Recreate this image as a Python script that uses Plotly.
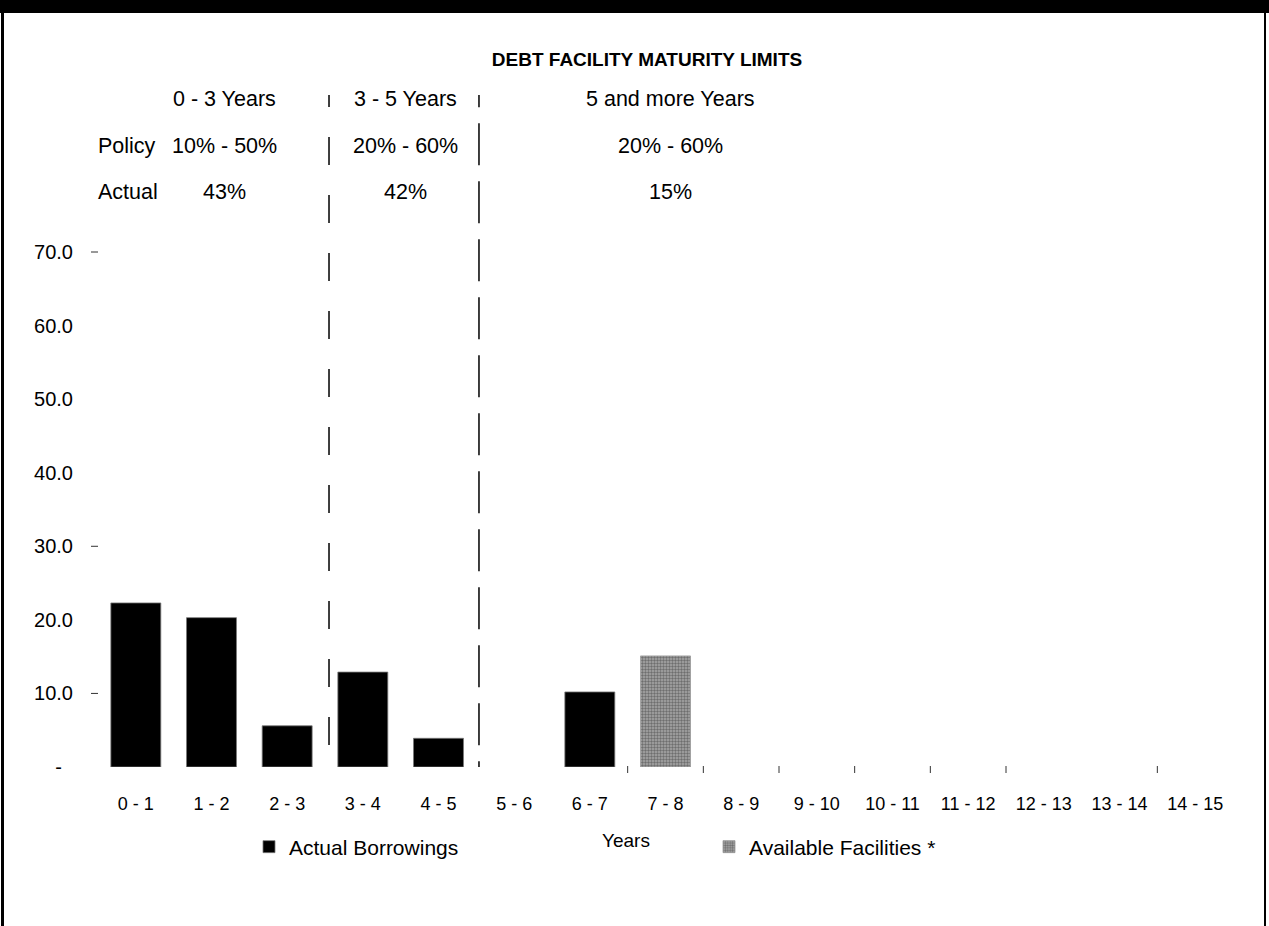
import plotly.graph_objects as go

# Maturity buckets (years) and amounts
categories = ["0 - 1", "1 - 2", "2 - 3", "3 - 4", "4 - 5", "5 - 6", "6 - 7", "7 - 8",
              "8 - 9", "9 - 10", "10 - 11", "11 - 12", "12 - 13", "13 - 14", "14 - 15"]
actual_borrowings = [22.3, 20.3, 5.6, 12.9, 3.9, None, 10.2, None,
                     None, None, None, None, None, None, None]
available_facilities = [None, None, None, None, None, None, None, 15.1,
                        None, None, None, None, None, None, None]

y_tickvals = [0, 10, 20, 30, 40, 50, 60, 70]
y_ticktext = ["-\u00a0\u00a0", "10.0", "20.0", "30.0", "40.0", "50.0", "60.0", "70.0"]
y_marked = [10, 30, 70]

# Policy bands
band_names = ["0 - 3 Years", "3 - 5 Years", "5 and more Years"]
band_policy = ["10% - 50%", "20% - 60%", "20% - 60%"]
band_actual = ["43%", "42%", "15%"]
band_centers = [1.17, 3.56, 7.06]
band_breaks = [2.553, 4.535]
axis_ticks = [6.5, 7.5, 8.5, 9.5, 10.5, 11.5, 13.5]

W, H = 1269, 926
PL, PR, PT, PB = 98, 1233, 95, 767
Y_MAX = 91.34
FONT = "Liberation Sans, Arial, sans-serif"


def px_x(p):
    return (p - PL) / (PR - PL)


def px_y(p):
    return (PB - p) / (PB - PT)


fig = go.Figure()
fig.add_bar(
    x=categories, y=actual_borrowings, name="Actual Borrowings",
    marker=dict(color="black", line=dict(color="#777", width=0.8)),
    legend="legend", showlegend=True,
)
fig.add_bar(
    x=categories, y=available_facilities, name="Available Facilities *",
    marker=dict(color="#9a9a9a",
                pattern=dict(shape=".", fgcolor="#333", bgcolor="#a8a8a8", size=3, solidity=0.5),
                line=dict(color="#999", width=0.8)),
    legend="legend2", showlegend=True,
)

shapes = []
# band separators (dashed)
shapes.append(dict(type="line", xref="x", yref="y", x0=band_breaks[0], x1=band_breaks[0],
                   y0=93.5, y1=0, line=dict(color="black", width=1.5, dash="28px,30px")))
shapes.append(dict(type="line", xref="x", yref="y", x0=band_breaks[1], x1=band_breaks[1],
                   y0=95.4, y1=0, line=dict(color="black", width=1.5, dash="42px,16px")))
# small category boundary ticks
for t in axis_ticks:
    shapes.append(dict(type="line", xref="x", yref="paper", x0=t, x1=t,
                       y0=px_y(766), y1=px_y(773), line=dict(color="#333", width=1)))
# small value ticks
for v in y_marked:
    shapes.append(dict(type="line", xref="paper", yref="y", x0=px_x(91), x1=px_x(98),
                       y0=v, y1=v, line=dict(color="#333", width=1)))
# frame: top band and side rules
shapes.append(dict(type="rect", xref="paper", yref="paper", x0=px_x(0), x1=px_x(W),
                   y0=px_y(0), y1=px_y(13), fillcolor="black", line=dict(width=0), layer="above"))
shapes.append(dict(type="line", xref="paper", yref="paper", x0=px_x(2.5), x1=px_x(2.5),
                   y0=px_y(0), y1=px_y(H), line=dict(color="black", width=3)))
shapes.append(dict(type="line", xref="paper", yref="paper", x0=px_x(1265), x1=px_x(1265),
                   y0=px_y(0), y1=px_y(H), line=dict(color="black", width=2)))

annotations = []
hdr = dict(size=21.5, color="black", family=FONT)
rows_y = [px_y(99), px_y(145.5), px_y(192)]
for cx, name, pol, act in zip(band_centers, band_names, band_policy, band_actual):
    annotations.append(dict(x=cx, y=rows_y[0], xref="x", yref="paper", text=name,
                            showarrow=False, font=hdr, xanchor="center", yanchor="middle"))
    annotations.append(dict(x=cx, y=rows_y[1], xref="x", yref="paper", text=pol,
                            showarrow=False, font=hdr, xanchor="center", yanchor="middle"))
    annotations.append(dict(x=cx, y=rows_y[2], xref="x", yref="paper", text=act,
                            showarrow=False, font=hdr, xanchor="center", yanchor="middle"))
annotations.append(dict(x=px_x(96), y=rows_y[1], xref="paper", yref="paper", text="Policy",
                        showarrow=False, font=hdr, xanchor="left", yanchor="middle"))
annotations.append(dict(x=px_x(96), y=rows_y[2], xref="paper", yref="paper", text="Actual",
                        showarrow=False, font=hdr, xanchor="left", yanchor="middle"))
annotations.append(dict(x=px_x(626), y=px_y(840), xref="paper", yref="paper", text="Years",
                        showarrow=False, font=dict(size=19, color="black", family=FONT),
                        xanchor="center", yanchor="middle"))

fig.update_layout(
    width=W, height=H,
    margin=dict(l=PL, r=W - PR, t=PT, b=H - PB, pad=0),
    paper_bgcolor="white", plot_bgcolor="white",
    font=dict(family=FONT, color="black"),
    showlegend=True,
    barmode="overlay", bargap=0.34,
    title=dict(text="<b>DEBT FACILITY MATURITY LIMITS</b>", x=647 / W, y=1 - 59 / H,
               xref="container", yref="container", xanchor="center", yanchor="middle",
               font=dict(size=19, color="black", family=FONT)),
    xaxis=dict(type="category", range=[-0.5, 14.5], showgrid=False, zeroline=False,
               showline=False, ticks="", tickfont=dict(size=18), ticklabelstandoff=24),
    yaxis=dict(range=[0, Y_MAX], tickvals=y_tickvals, ticktext=y_ticktext, showgrid=False,
               zeroline=False, showline=False, ticks="", tickfont=dict(size=20),
               ticklabelstandoff=24),
    legend=dict(x=px_x(249), y=px_y(847), xanchor="left", yanchor="middle",
                font=dict(size=21), bgcolor="rgba(0,0,0,0)", itemwidth=30),
    legend2=dict(x=px_x(709), y=px_y(847), xanchor="left", yanchor="middle",
                 font=dict(size=21), bgcolor="rgba(0,0,0,0)", itemwidth=30),
    shapes=shapes,
    annotations=annotations,
)

fig.write_html("out.html")
